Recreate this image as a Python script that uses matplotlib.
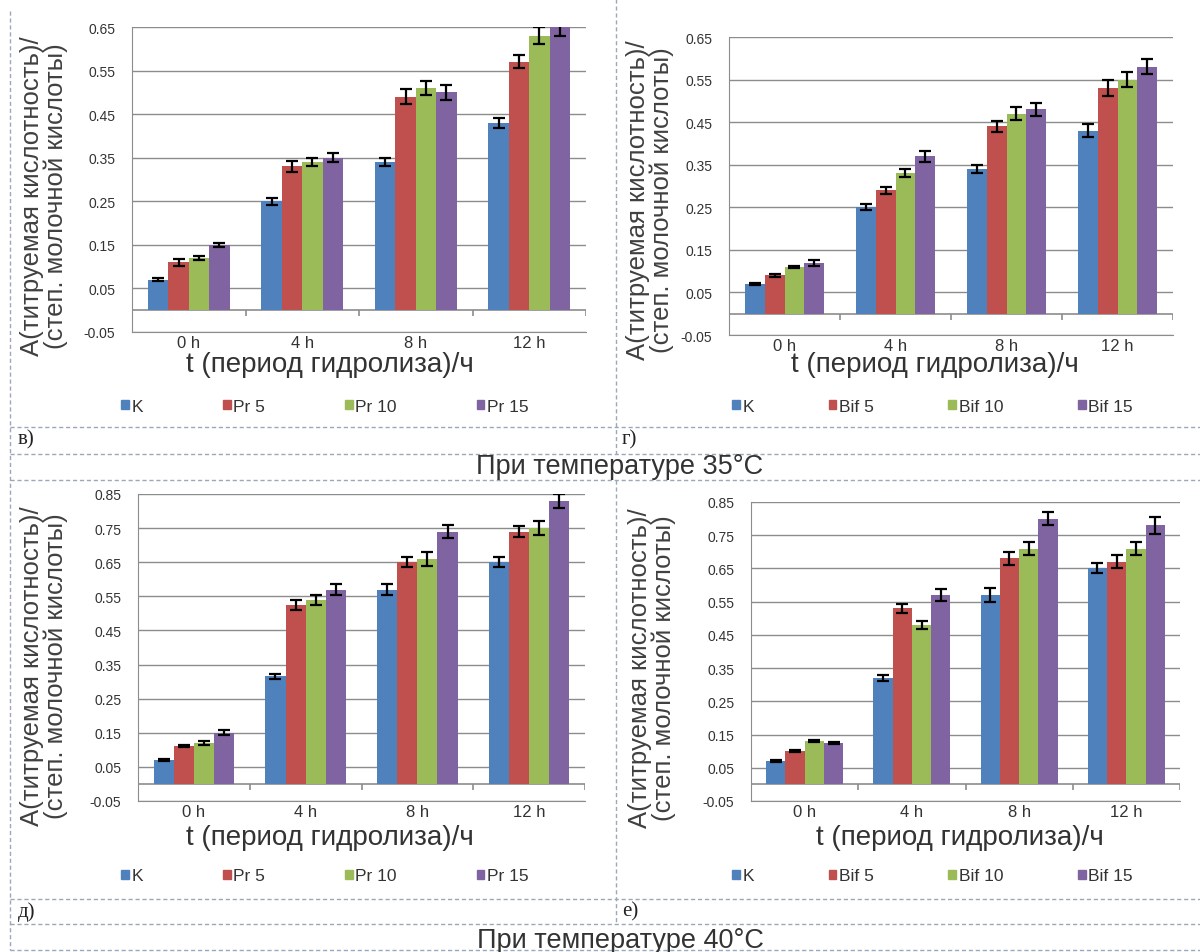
import matplotlib
matplotlib.use('Agg')
import matplotlib.pyplot as plt
import numpy as np
from matplotlib.lines import Line2D
from matplotlib.patches import Patch

plt.rcParams['font.family'] = ['Liberation Sans', 'DejaVu Sans']

W, H = 1200, 953
fig = plt.figure(figsize=(W / 100, H / 100), dpi=100)

categories = ['0 h', '4 h', '8 h', '12 h']
series_pr = ['K', 'Pr 5', 'Pr 10', 'Pr 15']
series_bif = ['K', 'Bif 5', 'Bif 10', 'Bif 15']
colors = ['#4F81BD', '#C0504D', '#9BBB59', '#8064A2']

# panel в) Pr, 35 C  (rows = series, columns = categories)
v_vals = [[0.07, 0.25, 0.34, 0.43],
          [0.11, 0.33, 0.49, 0.57],
          [0.12, 0.34, 0.51, 0.63],
          [0.15, 0.35, 0.50, 0.65]]
v_errs = [[0.003, 0.008, 0.010, 0.012],
          [0.008, 0.012, 0.017, 0.015],
          [0.005, 0.010, 0.017, 0.020],
          [0.005, 0.010, 0.017, 0.020]]

# panel г) Bif, 35 C
g_vals = [[0.07, 0.25, 0.34, 0.43],
          [0.09, 0.29, 0.44, 0.53],
          [0.11, 0.33, 0.47, 0.55],
          [0.12, 0.37, 0.48, 0.58]]
g_errs = [[0.003, 0.007, 0.010, 0.015],
          [0.003, 0.008, 0.013, 0.018],
          [0.003, 0.010, 0.015, 0.017],
          [0.007, 0.013, 0.015, 0.018]]

# panel д) Pr, 40 C
d_vals = [[0.07, 0.315, 0.57, 0.65],
          [0.11, 0.525, 0.65, 0.74],
          [0.12, 0.54, 0.66, 0.75],
          [0.15, 0.57, 0.74, 0.83]]
d_errs = [[0.003, 0.008, 0.015, 0.015],
          [0.003, 0.015, 0.015, 0.015],
          [0.007, 0.015, 0.020, 0.020],
          [0.007, 0.015, 0.020, 0.020]]

# panel е) Bif, 40 C
e_vals = [[0.07, 0.32, 0.57, 0.65],
          [0.10, 0.53, 0.68, 0.67],
          [0.13, 0.48, 0.71, 0.71],
          [0.125, 0.57, 0.80, 0.78]]
e_errs = [[0.003, 0.008, 0.020, 0.015],
          [0.003, 0.013, 0.020, 0.020],
          [0.003, 0.013, 0.020, 0.020],
          [0.003, 0.018, 0.020, 0.025]]

GRID = '#8c8c8c'
TXT = '#333333'
YLAB = 'А(титруемая кислотность)/\n(степ. молочной кислоты)'
XLAB = 't (период гидролиза)/ч'


def fx(px):
    return px / W


def fy(py):
    return 1 - py / H


def panel(x0, x1, ytop, ybot, ymax, series, vals, errs,
          xlab_x, xlab_y, leg_y, ylab_x, ylab_y, leg_x0, colsp):
    ax = fig.add_axes([fx(x0), fy(ybot), (x1 - x0) / W, (ybot - ytop) / H])
    ax.set_xlim(0, len(categories))
    ax.set_ylim(-0.05, ymax)
    n = len(series)
    bw = 0.18
    centers = np.arange(len(categories)) + 0.5
    for i in range(n):
        ax.bar(centers + (i - (n - 1) / 2) * bw, vals[i], bw, color=colors[i],
               yerr=errs[i], capsize=4.5, zorder=3,
               error_kw=dict(elinewidth=1.6, capthick=1.6, ecolor='black', zorder=4))
    yt = np.round(np.arange(-0.05, ymax + 0.001, 0.1), 2)
    ax.set_yticks(yt)
    ax.set_yticklabels([f'{t:.2f}' for t in yt], fontsize=10, color=TXT)
    ax.yaxis.grid(True, color=GRID, lw=1)
    ax.set_axisbelow(True)
    for s in ['top', 'right']:
        ax.spines[s].set_visible(False)
    ax.spines['left'].set_color(GRID)
    ax.spines['bottom'].set_color(GRID)
    ax.tick_params(axis='y', length=0, pad=12)
    ax.axhline(0, color=GRID, lw=1.2, zorder=2)
    dpp = (ymax + 0.05) / (ybot - ytop)
    ax.vlines(np.arange(len(categories) + 1), -6 * dpp, 0, color=GRID, lw=1.2, zorder=2)
    ax.set_xticks(centers)
    ax.set_xticklabels(categories, fontsize=12, color=TXT)
    ax.tick_params(axis='x', length=0, pad=2)
    fig.text(fx(xlab_x), fy(xlab_y), XLAB, fontsize=20,
             ha='center', va='center', color=TXT)
    fig.text(fx(ylab_x), fy(ylab_y), YLAB, fontsize=18.5,
             rotation=90, ha='center', va='center', color='#404040',
             linespacing=1.0, multialignment='center')
    handles = [Patch(color=colors[i]) for i in range(n)]
    fig.legend(handles, series, ncol=n, loc='center left',
               bbox_to_anchor=(fx(leg_x0), fy(leg_y)), frameon=False,
               fontsize=12.5, handlelength=0.45, handleheight=0.45,
               handletextpad=0.15, columnspacing=colsp, borderaxespad=0,
               labelcolor=TXT)
    return ax


panel(132, 586, 28, 333, 0.65, series_pr, v_vals, v_errs,
      330, 365, 407, 44, 196, 114, 4.6)
panel(729, 1173, 38, 336, 0.65, series_bif, g_vals, g_errs,
      935, 365, 407, 650, 200, 725, 4.3)
panel(138, 585, 495, 802, 0.85, series_pr, d_vals, d_errs,
      330, 838, 877, 44, 666, 114, 4.6)
panel(751, 1180, 503, 802, 0.85, series_bif, e_vals, e_errs,
      960, 838, 877, 652, 668, 725, 4.3)

# dashed frame lines
DC = '#9aa8ba'
DS = (0, (3, 2))


def hline(y, xa=10, xb=1200):
    fig.add_artist(Line2D([fx(xa), fx(xb)], [fy(y), fy(y)], color=DC, lw=1,
                          linestyle=DS, transform=fig.transFigure))


def vline(x, ya, yb):
    fig.add_artist(Line2D([fx(x), fx(x)], [fy(ya), fy(yb)], color=DC, lw=1,
                          linestyle=DS, transform=fig.transFigure))


for y in [428, 455, 481, 900, 925, 951]:
    hline(y)
vline(10, 12, 951)
vline(616, 0, 455)
vline(616, 481, 925)

# panel letters
for (x, y, s) in [(18, 440, 'в)'), (622, 440, 'г)'), (18, 912, 'д)'), (622, 912, 'е)')]:
    fig.text(fx(x), fy(y), s, fontsize=15, family='Liberation Serif',
             ha='left', va='center', color='#222222')

fig.text(fx(620), fy(467), 'При температуре 35°C', fontsize=19.5,
         ha='center', va='center', color=TXT)
fig.text(fx(620), fy(941), 'При температуре 40°C', fontsize=19.5,
         ha='center', va='center', color=TXT)

fig.savefig('out.png', dpi=100)
